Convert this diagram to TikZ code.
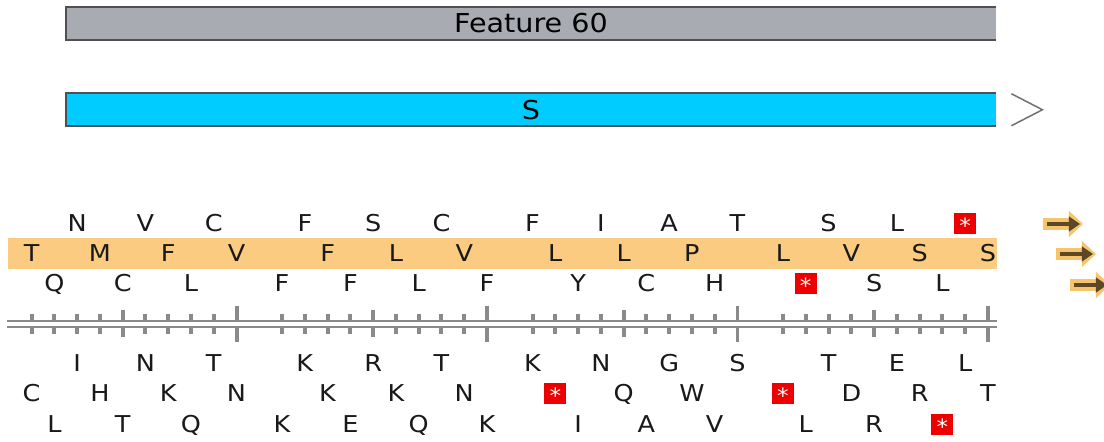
\documentclass[tikz,border=0pt]{standalone}
\usepackage{fontspec}
\setmainfont{DejaVu Sans}[FakeStretch=1.1]
\usetikzlibrary{arrows.meta}
\usetikzlibrary{positioning}

\definecolor{featgray}{RGB}{168,171,178}
\definecolor{cdscyan}{RGB}{0,204,255}
\definecolor{edgegray}{RGB}{78,80,84}
\definecolor{bandorange}{RGB}{250,203,128}
\definecolor{gloworange}{RGB}{246,196,108}
\definecolor{rulergray}{RGB}{138,138,138}
\definecolor{stopred}{RGB}{238,0,0}
\definecolor{arrowbrown}{RGB}{92,72,38}

% x position of base #1 (a blank column after every ten bases)
\pgfmathdeclarefunction{basex}{1}{\pgfmathparse{31.6+(#1-1+int((#1-1)/10))*22.77}}

\begin{document}
\begin{tikzpicture}[x=0.025cm,y=-0.025cm,
	bar/.style={rectangle,minimum width=23.25cm,minimum height=0.82cm,inner sep=0pt,font=\fontsize{18.5}{21}\selectfont},
	edge/.style={draw=edgegray,line width=1.4pt},
	aa/.style={inner sep=0pt,anchor=base,text=black!90,font=\fontsize{16.5}{19}\selectfont},
	stopbox/.style={rectangle,fill=stopred,minimum width=0.55cm,minimum height=0.525cm,inner sep=0pt,text height=11.4pt,text depth=0pt,text=white,font=\fontsize{15}{18}\selectfont},
	tick/.style={draw=rulergray,line width=2.8pt},
	glow/.style={gloworange,line width=9pt,-{Triangle[length=10pt,width=18pt]}},
	dirarrow/.style={arrowbrown,line width=3.4pt,-{Triangle[length=8pt,width=10.5pt]}}]
	\useasboundingbox (0,0) rectangle (1104,441);

	% feature bars
	\node[bar,fill=featgray] (feat) at (531,23.5) {Feature 60};
	\draw[edge] (feat.north east) -- (feat.north west) -- (feat.south west) -- (feat.south east);
	\node[bar,fill=cdscyan] (cds) at (531,109.75) {S};
	\draw[edge] (cds.north east) -- (cds.north west) -- (cds.south west) -- (cds.south east);
	\draw[draw=black!55,line width=1.1pt] (cds.east) ++(15,-16) -- ++(31,16) -- ++(-31,16);

	% highlighted frame
	\fill[bandorange] (8,238) rectangle (997,269);

	% ruler
	\foreach \k in {1,...,40}{
		\pgfmathsetmacro{\px}{basex(\k)}
		\pgfmathsetmacro{\th}{ifthenelse(mod(\k,10)==0,18,ifthenelse(mod(\k,5)==0,13.5,10))}
		\draw[tick] (\px,323.7-\th) -- (\px,323.7+\th);
	}
	\fill[white] (7,321.8) rectangle (997,325.6);
	\draw[rulergray,line width=1.3pt] (7,320.7) -- (997,320.7) (7,326.7) -- (997,326.7);

	% translations, three forward and three reverse frames
	\foreach \rname/\first/\base/\seq in {
		ft/3/231.5/{N,V,C,F,S,C,F,I,A,T,S,L,*},
		fm/1/261.5/{T,M,F,V,F,L,V,L,L,P,L,V,S,S},
		fb/2/291.5/{Q,C,L,F,F,L,F,Y,C,H,*,S,L},
		rt/3/371.5/{I,N,T,K,R,T,K,N,G,S,T,E,L},
		rm/1/401.5/{C,H,K,N,K,K,N,*,Q,W,*,D,R,T},
		rb/2/432.5/{L,T,Q,K,E,Q,K,I,A,V,L,R,*}}{
		\foreach \aa [count=\i] in \seq {
			\pgfmathtruncatemacro{\k}{\first+3*(\i-1)}
			\pgfmathsetmacro{\px}{basex(\k)}
			\if*\aa
				\node[stopbox] (\rname-\i) at (\px,\base-8) {\raisebox{-1.5pt}{*}};
			\else
				\node[aa] (\rname-\i) at (\px,\base) {\aa};
			\fi
		}
	}

	% reading direction of the forward frames
	\foreach \xs/\y in {1043/224,1056/254,1070/285}{
		\draw[glow] (\xs,\y) -- ++(40,0);
		\draw[dirarrow] (\xs+4,\y) -- ++(33,0);
	}
\end{tikzpicture}
\end{document}
